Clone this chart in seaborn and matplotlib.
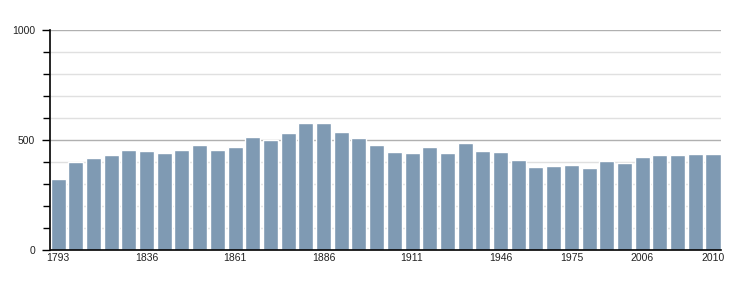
import matplotlib
matplotlib.use("Agg")
import matplotlib.pyplot as plt
import seaborn as sns
import pandas as pd
from matplotlib.ticker import MultipleLocator

years = ["1793", "1800", "1806", "1821", "1831", "1836", "1841", "1846", "1851", "1856",
         "1861", "1866", "1872", "1876", "1881", "1886", "1891", "1896", "1901", "1906",
         "1911", "1921", "1926", "1931", "1936", "1946", "1954", "1962", "1968", "1975",
         "1982", "1990", "1999", "2006", "2007", "2008", "2009", "2010"]
population = [323, 401, 419, 432, 455, 451, 442, 455, 478, 455,
              469, 514, 501, 533, 578, 578, 537, 510, 478, 446,
              442, 469, 442, 487, 451, 446, 410, 378, 382, 387,
              373, 405, 396, 423, 432, 432, 437, 437]
labeled_years = ["1793", "1836", "1861", "1886", "1911", "1946", "1975", "2006", "2010"]

df = pd.DataFrame({"year": years, "population": population})

sns.set_theme(style="white")
plt.rcParams["font.family"] = ["Liberation Sans", "DejaVu Sans"]

fig = plt.figure(figsize=(7.5, 3.0), dpi=100)
ax = fig.add_axes([50.5 / 750, 1 - 250 / 300, (720.5 - 50.5) / 750, 220 / 300])

sns.barplot(data=df, x="year", y="population", color="#7f9ab3", width=0.85,
            saturation=1, ax=ax, zorder=3)

ax.set_xlim(-0.425, len(years) - 1 + 0.425)
ax.set_ylim(0, 1000)

# grid
for v in range(100, 1000, 100):
    if v % 500 == 0:
        continue
    ax.axhline(v, color="#e0e0e0", lw=1, zorder=1)
for v in (500, 1000):
    ax.axhline(v, color="#b0b0b0", lw=1, zorder=2)

ax.set_yticks([0, 500, 1000])
ax.yaxis.set_minor_locator(MultipleLocator(100))
ax.tick_params(axis="y", which="both", direction="out", length=5, width=1,
               color="black", left=True, labelsize=7.5, pad=5, labelcolor="#222222")
ax.tick_params(axis="y", which="major", length=6)

pos = [years.index(y) for y in labeled_years]
ax.set_xticks(pos)
ax.set_xticklabels(labeled_years)
ax.tick_params(axis="x", which="both", length=0, labelsize=7.5, pad=2, labelcolor="#222222")

for s in ("top", "right"):
    ax.spines[s].set_visible(False)
for s in ("left", "bottom"):
    ax.spines[s].set_color("black")
    ax.spines[s].set_linewidth(1.2)
    ax.spines[s].set_zorder(5)

ax.set_xlabel("")
ax.set_ylabel("")

fig.savefig("out.png", dpi=100, facecolor="white")
